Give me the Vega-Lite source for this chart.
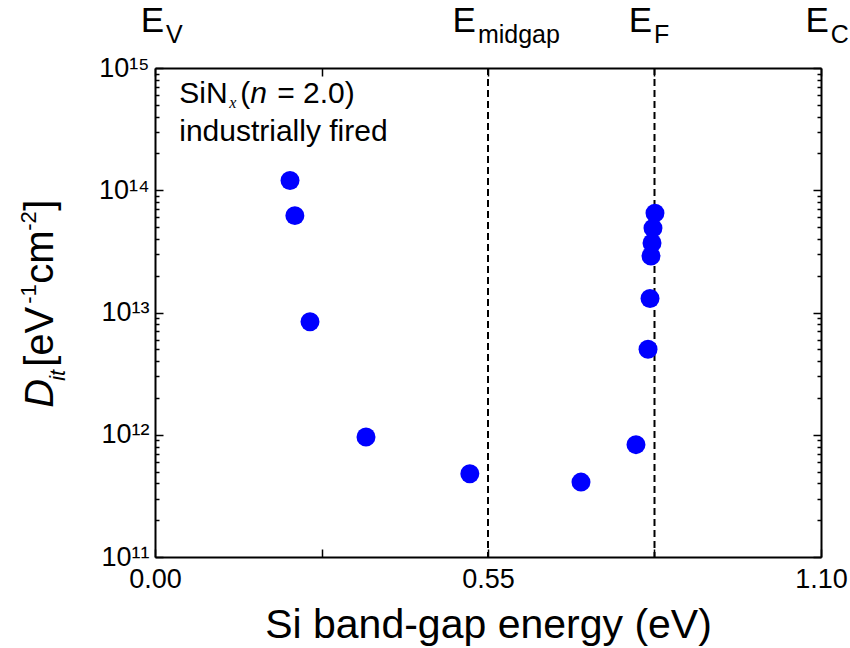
{
  "$schema": "https://vega.github.io/schema/vega-lite/v6.json",
  "width": 666,
  "height": 489,
  "autosize": {"type": "none"},
  "padding": {"left": 155, "top": 68, "right": 29, "bottom": 91},
  "background": "white",
  "config": {
    "view": {"stroke": null},
    "font": "Liberation Sans",
    "axis": {
      "grid": false,
      "domainColor": "black",
      "domainWidth": 2,
      "tickColor": "black",
      "tickWidth": 1.5,
      "labelColor": "black",
      "labelFont": "Liberation Sans",
      "titleColor": "black",
      "titleFont": "Liberation Sans"
    }
  },
  "datasets": {
    "points": [
      {"e": 0.223, "d": 1.2e14},
      {"e": 0.231, "d": 6.2e13},
      {"e": 0.256, "d": 8.4e12},
      {"e": 0.3485, "d": 9.6e11},
      {"e": 0.520, "d": 4.8e11},
      {"e": 0.7036, "d": 4.1e11},
      {"e": 0.7944, "d": 8.3e11},
      {"e": 0.8143, "d": 5.0e12},
      {"e": 0.8176, "d": 1.3e13},
      {"e": 0.8192, "d": 2.9e13},
      {"e": 0.8209, "d": 3.7e13},
      {"e": 0.8225, "d": 4.9e13},
      {"e": 0.8258, "d": 6.5e13}
    ],
    "levels": [{"x": 0.55}, {"x": 0.825}],
    "elabels": [
      {"x": 0.0149, "m": "E", "s": "V"},
      {"x": 0.530, "m": "E", "s": "midgap"},
      {"x": 0.821, "m": "E", "s": "F"},
      {"x": 1.113, "m": "E", "s": "C"}
    ],
    "one": [{"k": 1}]
  },
  "layer": [
    {
      "data": {"name": "levels"},
      "mark": {"type": "rule", "strokeDash": [7, 4], "strokeWidth": 2, "color": "black"},
      "encoding": {
        "x": {
          "field": "x", "type": "quantitative",
          "scale": {"domain": [0, 1.1], "nice": false, "zero": false},
          "axis": {"orient": "top", "values": [0, 0.275, 0.55, 0.825, 1.1], "labels": false, "tickSize": -8, "title": null}
        }
      }
    },
    {
      "data": {"name": "points"},
      "mark": {"type": "circle", "size": 360, "color": "#0000ff", "opacity": 1},
      "encoding": {
        "x": {
          "field": "e", "type": "quantitative",
          "scale": {"domain": [0, 1.1], "nice": false, "zero": false},
          "axis": {
            "orient": "bottom",
            "values": [0, 0.275, 0.55, 0.825, 1.1],
            "labelExpr": "(datum.value == 0.275 || datum.value == 0.825) ? '' : format(datum.value, '.2f')",
            "tickSize": -8,
            "labelPadding": 17,
            "labelFontSize": 27,
            "labelFlush": false,
            "title": "Si band-gap energy (eV)",
            "titleFontSize": 41,
            "titleFontWeight": "normal",
            "titlePadding": 13
          }
        },
        "y": {
          "field": "d", "type": "quantitative",
          "scale": {"type": "log", "domain": [1e11, 1e15], "nice": false},
          "axis": {
            "orient": "left",
            "values": [1e11, 2e11, 3e11, 4e11, 5e11, 6e11, 7e11, 8e11, 9e11, 1e12, 2e12, 3e12, 4e12, 5e12, 6e12, 7e12, 8e12, 9e12, 1e13, 2e13, 3e13, 4e13, 5e13, 6e13, 7e13, 8e13, 9e13, 1e14, 2e14, 3e14, 4e14, 5e14, 6e14, 7e14, 8e14, 9e14, 1e15],
            "labelExpr": "abs(log(datum.value)/LN10 - round(log(datum.value)/LN10)) < 0.001 ? '10' + ['¹¹','¹²','¹³','¹⁴','¹⁵'][round(log(datum.value)/LN10) - 11] : ''",
            "tickSize": {"condition": {"test": "abs(log(datum.value)/LN10 - round(log(datum.value)/LN10)) < 0.001", "value": -8}, "value": -4},
            "labelPadding": 14,
            "labelFontSize": 27,
            "labelFlush": false,
            "labelOverlap": false,
            "title": null
          }
        }
      }
    },
    {
      "data": {"name": "one"},
      "mark": {"type": "text", "text": "SiN", "fontSize": 30, "align": "left", "baseline": "alphabetic", "color": "black"},
      "encoding": {
        "x": {"datum": 0.04, "type": "quantitative", "axis": null},
        "y": {
          "datum": 5.17e14, "type": "quantitative",
          "axis": {
            "orient": "right",
            "values": [1e11, 2e11, 3e11, 4e11, 5e11, 6e11, 7e11, 8e11, 9e11, 1e12, 2e12, 3e12, 4e12, 5e12, 6e12, 7e12, 8e12, 9e12, 1e13, 2e13, 3e13, 4e13, 5e13, 6e13, 7e13, 8e13, 9e13, 1e14, 2e14, 3e14, 4e14, 5e14, 6e14, 7e14, 8e14, 9e14, 1e15],
            "labels": false,
            "tickSize": {"condition": {"test": "abs(log(datum.value)/LN10 - round(log(datum.value)/LN10)) < 0.001", "value": -8}, "value": -4},
            "title": null
          }
        }
      }
    },
    {
      "data": {"name": "one"},
      "mark": {"type": "text", "text": "x", "fontSize": 16, "font": "Liberation Serif", "fontStyle": "italic", "align": "left", "baseline": "alphabetic", "dx": 50, "dy": 5, "color": "black"},
      "encoding": {"x": {"datum": 0.04, "type": "quantitative", "axis": null}, "y": {"datum": 5.17e14, "type": "quantitative", "axis": null}}
    },
    {
      "data": {"name": "one"},
      "mark": {"type": "text", "text": "(", "fontSize": 30, "align": "left", "baseline": "alphabetic", "dx": 61, "color": "black"},
      "encoding": {"x": {"datum": 0.04, "type": "quantitative", "axis": null}, "y": {"datum": 5.17e14, "type": "quantitative", "axis": null}}
    },
    {
      "data": {"name": "one"},
      "mark": {"type": "text", "text": "n", "fontSize": 30, "fontStyle": "italic", "align": "left", "baseline": "alphabetic", "dx": 71, "color": "black"},
      "encoding": {"x": {"datum": 0.04, "type": "quantitative", "axis": null}, "y": {"datum": 5.17e14, "type": "quantitative", "axis": null}}
    },
    {
      "data": {"name": "one"},
      "mark": {"type": "text", "text": "= 2.0)", "fontSize": 30, "align": "left", "baseline": "alphabetic", "dx": 98, "color": "black"},
      "encoding": {"x": {"datum": 0.04, "type": "quantitative", "axis": null}, "y": {"datum": 5.17e14, "type": "quantitative", "axis": null}}
    },
    {
      "data": {"name": "one"},
      "mark": {"type": "text", "text": "industrially fired", "fontSize": 30, "align": "left", "baseline": "alphabetic", "color": "black"},
      "encoding": {"x": {"datum": 0.04, "type": "quantitative", "axis": null}, "y": {"datum": 2.55e14, "type": "quantitative", "axis": null}}
    },
    {
      "data": {"name": "elabels"},
      "mark": {"type": "text", "fontSize": 35, "align": "right", "baseline": "alphabetic", "color": "black"},
      "encoding": {
        "x": {"field": "x", "type": "quantitative", "axis": null},
        "y": {"datum": 1.97e15, "type": "quantitative", "axis": null},
        "text": {"field": "m"}
      }
    },
    {
      "data": {"name": "elabels"},
      "mark": {"type": "text", "fontSize": 25, "align": "left", "baseline": "alphabetic", "dx": 2, "dy": 11, "color": "black"},
      "encoding": {
        "x": {"field": "x", "type": "quantitative", "axis": null},
        "y": {"datum": 1.97e15, "type": "quantitative", "axis": null},
        "text": {"field": "s"}
      }
    },
    {
      "data": {"name": "one"},
      "mark": {"type": "text", "text": "D", "fontSize": 40, "fontStyle": "italic", "angle": 270, "align": "left", "baseline": "alphabetic", "color": "black"},
      "encoding": {"x": {"datum": -0.1685, "type": "quantitative", "axis": null}, "y": {"datum": 1.66e12, "type": "quantitative", "axis": null}}
    },
    {
      "data": {"name": "one"},
      "mark": {"type": "text", "text": "it", "fontSize": 22, "fontStyle": "italic", "angle": 270, "align": "left", "baseline": "alphabetic", "dx": 27, "dy": 12, "color": "black"},
      "encoding": {"x": {"datum": -0.1685, "type": "quantitative", "axis": null}, "y": {"datum": 1.66e12, "type": "quantitative", "axis": null}}
    },
    {
      "data": {"name": "one"},
      "mark": {"type": "text", "text": "[eV", "fontSize": 40, "angle": 270, "align": "left", "baseline": "alphabetic", "dx": 41, "color": "black"},
      "encoding": {"x": {"datum": -0.1685, "type": "quantitative", "axis": null}, "y": {"datum": 1.66e12, "type": "quantitative", "axis": null}}
    },
    {
      "data": {"name": "one"},
      "mark": {"type": "text", "text": "-1", "fontSize": 22, "angle": 270, "align": "left", "baseline": "alphabetic", "dx": 104, "dy": -17, "color": "black"},
      "encoding": {"x": {"datum": -0.1685, "type": "quantitative", "axis": null}, "y": {"datum": 1.66e12, "type": "quantitative", "axis": null}}
    },
    {
      "data": {"name": "one"},
      "mark": {"type": "text", "text": "cm", "fontSize": 40, "angle": 270, "align": "left", "baseline": "alphabetic", "dx": 124, "color": "black"},
      "encoding": {"x": {"datum": -0.1685, "type": "quantitative", "axis": null}, "y": {"datum": 1.66e12, "type": "quantitative", "axis": null}}
    },
    {
      "data": {"name": "one"},
      "mark": {"type": "text", "text": "-2", "fontSize": 22, "angle": 270, "align": "left", "baseline": "alphabetic", "dx": 177, "dy": -17, "color": "black"},
      "encoding": {"x": {"datum": -0.1685, "type": "quantitative", "axis": null}, "y": {"datum": 1.66e12, "type": "quantitative", "axis": null}}
    },
    {
      "data": {"name": "one"},
      "mark": {"type": "text", "text": "]", "fontSize": 40, "angle": 270, "align": "left", "baseline": "alphabetic", "dx": 197, "color": "black"},
      "encoding": {"x": {"datum": -0.1685, "type": "quantitative", "axis": null}, "y": {"datum": 1.66e12, "type": "quantitative", "axis": null}}
    }
  ]
}
